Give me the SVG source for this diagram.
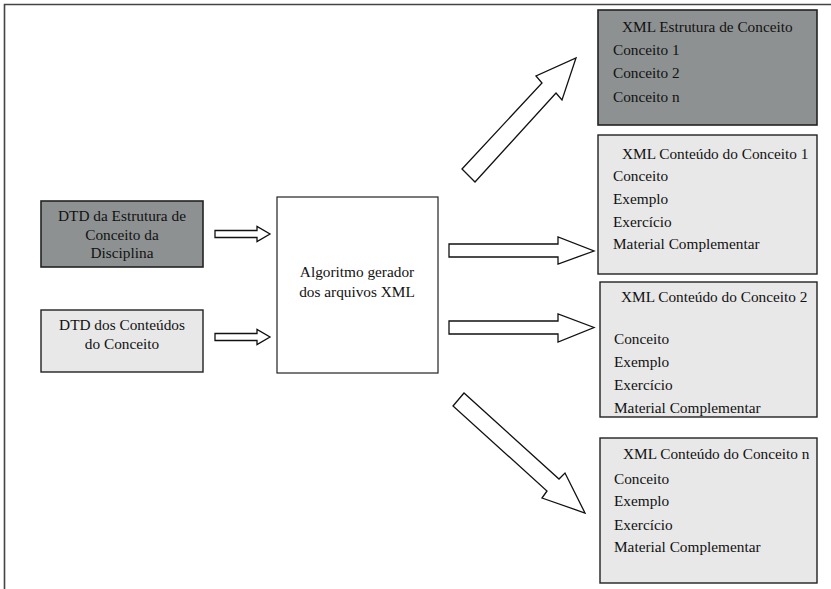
<svg xmlns="http://www.w3.org/2000/svg" width="831" height="589" viewBox="0 0 831 589">
<style>
text{font-family:"Liberation Serif","Times New Roman",serif;font-size:15.3px;fill:#111}
.c{text-anchor:middle}
.dark{fill:#8e9191;stroke:#222;stroke-width:1.6}
.light{fill:#e8e8e8;stroke:#222;stroke-width:1.4}
.white{fill:#fff;stroke:#222;stroke-width:1.2}
.arr{fill:#fff;stroke:#111;stroke-width:1.3;stroke-linejoin:miter}
</style>
<rect width="831" height="589" fill="#fff"/>
<path d="M4.5,589 V4.5 H831" fill="none" stroke="#444" stroke-width="1.6"/>
<g id="dtd-estrutura">
<rect class="dark" x="41" y="201" width="162" height="66"/>
<text class="c" x="122" y="221">DTD da Estrutura de</text>
<text class="c" x="122" y="240">Conceito da</text>
<text class="c" x="122" y="258">Disciplina</text>
</g>
<g id="dtd-conteudos">
<rect class="light" x="41" y="310" width="162" height="62"/>
<text class="c" x="122" y="330">DTD dos Conteúdos</text>
<text class="c" x="122" y="349">do Conceito</text>
</g>
<g id="algoritmo">
<rect class="white" x="277" y="197" width="161" height="176"/>
<text class="c" x="357" y="277">Algoritmo gerador</text>
<text class="c" x="357" y="297">dos arquivos XML</text>
</g>
<g id="xml-estrutura">
<rect class="dark" x="598" y="10" width="219" height="115"/>
<text x="622" y="32">XML Estrutura de Conceito</text>
<text x="613" y="55">Conceito 1</text>
<text x="613" y="78">Conceito 2</text>
<text x="613" y="102">Conceito n</text>
</g>
<g id="xml-conteudo-1">
<rect class="light" x="598" y="135" width="219" height="139"/>
<text x="622" y="159">XML Conteúdo do Conceito 1</text>
<text x="613" y="181">Conceito</text>
<text x="613" y="204">Exemplo</text>
<text x="613" y="227">Exercício</text>
<text x="613" y="249">Material Complementar</text>
</g>
<g id="xml-conteudo-2">
<rect class="light" x="600" y="282" width="217" height="135"/>
<text x="621" y="302">XML Conteúdo do Conceito 2</text>
<text x="614" y="344">Conceito</text>
<text x="614" y="367">Exemplo</text>
<text x="614" y="390">Exercício</text>
<text x="614" y="413">Material Complementar</text>
</g>
<g id="xml-conteudo-n">
<rect class="light" x="600" y="438" width="217" height="145"/>
<text x="623" y="459">XML Conteúdo do Conceito n</text>
<text x="614" y="484">Conceito</text>
<text x="614" y="506">Exemplo</text>
<text x="614" y="530">Exercício</text>
<text x="614" y="552">Material Complementar</text>
</g>
<g id="connectors">
<path class="arr" d="M215,230.5 H257 V226.5 L270,234 L257,241.5 V237.5 H215 Z"/>
<path class="arr" d="M215,333.5 H257 V329.5 L270,337 L257,344.5 V340.5 H215 Z"/>
<path class="arr" d="M449,244 H558 V237 L594,251 L558,264 V257 H449 Z"/>
<path class="arr" d="M449,321 H558 V314 L594,327.5 L558,342 V334 H449 Z"/>
<path class="arr" d="M462,169 L542,83 L536,76 L576,58 L562,100 L556,93 L475,182 Z"/>
<path class="arr" d="M464,393 L453,406 L547,491 L542,498 L585,513 L565,473 L559,479 Z"/>
</g>
</svg>
